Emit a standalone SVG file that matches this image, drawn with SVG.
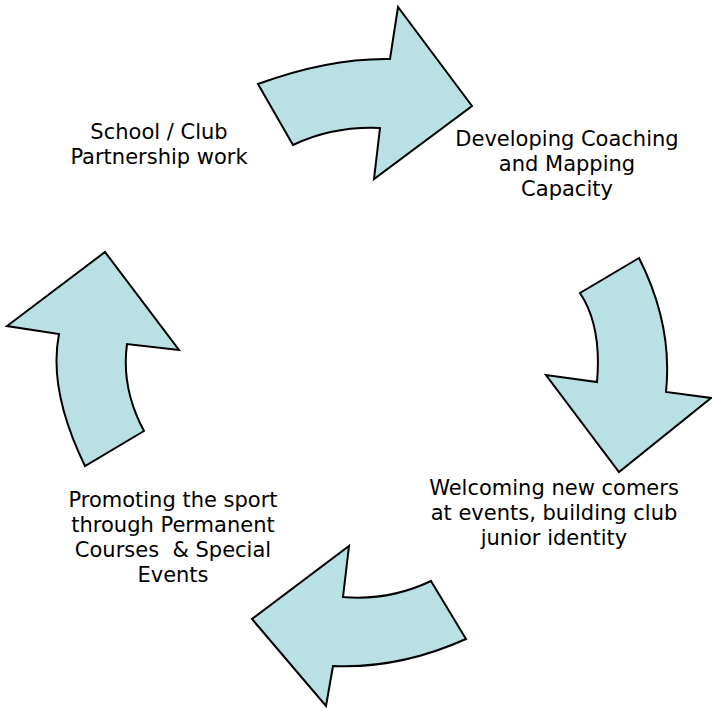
<svg xmlns="http://www.w3.org/2000/svg" width="712" height="716" viewBox="0 0 712 716">
<style>
.arrow{fill:#b9e0e3;stroke:#000;stroke-width:2;stroke-linejoin:miter}
.lbl{font-family:"DejaVu Sans",Verdana,sans-serif;font-size:21px;fill:#000;text-anchor:middle;white-space:pre}
</style>
<rect width="712" height="716" fill="#fff"/>
<g id="connectors">
<path id="arrow-top" class="arrow" d="M258,84 Q329,58 390,59 L398,7 L472,106 L374,179 L380,128 Q333,126 293,145 Z"/>
<path id="arrow-right" class="arrow" d="M639,258 L580,293 Q602,326 597,382 L546,375 L619,472 L711,398 L666,392 Q673,325 639,258 Z"/>
<path id="arrow-bottom" class="arrow" d="M431,581 Q389,601 343,597 L349,546 L252,619 L326,706 L333,666 Q399,669 466,639 Z"/>
<path id="arrow-left" class="arrow" d="M85,466 Q48,390 59,334 L7,326 L105,252 L179,350 L127,344 Q121,388 144,431 Z"/>
</g>
<g id="node-school">
<text class="lbl" x="159" y="139">School / Club</text>
<text class="lbl" x="159" y="164">Partnership work</text>
</g>
<g id="node-coaching">
<text class="lbl" x="567" y="146">Developing Coaching</text>
<text class="lbl" x="567" y="171">and Mapping</text>
<text class="lbl" x="567" y="196">Capacity</text>
</g>
<g id="node-welcoming">
<text class="lbl" x="554" y="495">Welcoming new comers</text>
<text class="lbl" x="554" y="520">at events, building club</text>
<text class="lbl" x="554" y="545">junior identity</text>
</g>
<g id="node-promoting">
<text class="lbl" x="173" y="507">Promoting the sport</text>
<text class="lbl" x="173" y="532">through Permanent</text>
<text class="lbl" x="173" y="557">Courses  &amp; Special</text>
<text class="lbl" x="173" y="582">Events</text>
</g>
</svg>
